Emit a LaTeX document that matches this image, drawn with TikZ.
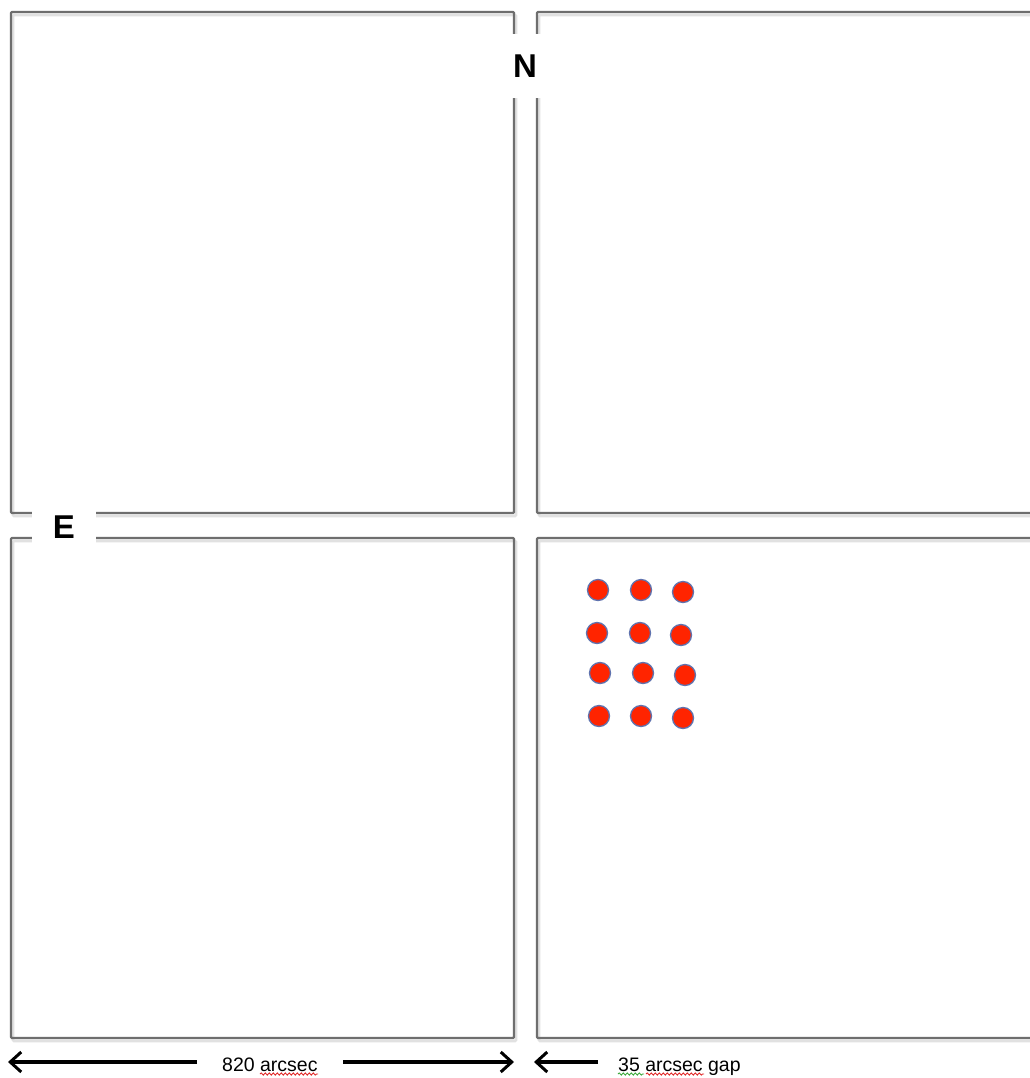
\documentclass[tikz,border=0pt]{standalone}
\usepackage{fontspec}
\setmainfont{Liberation Sans}
\usetikzlibrary{arrows.meta,decorations.pathmorphing}
\definecolor{boxgray}{RGB}{110,110,110}
\definecolor{shadowgray}{RGB}{225,225,225}
\definecolor{dotred}{RGB}{255,36,0}
\definecolor{dotrim}{RGB}{95,115,175}
\definecolor{spellred}{RGB}{225,40,40}
\definecolor{spellgreen}{RGB}{60,170,60}
\tikzset{
  x=1pt, y=-1pt,
  panel/.style={draw=boxgray, line width=2.4pt, rounded corners=1pt, line join=round},
  panelshadow/.style={draw=shadowgray, line width=2.6pt, rounded corners=1pt},
  dir/.style={fill=white, inner sep=0pt, font=\bfseries\fontsize{33}{33}\selectfont},
  lab/.style={inner sep=0pt, anchor=base west, font=\fontsize{19.5}{20}\selectfont},
  arr/.style={line width=3.2pt, -{Straight Barb[length=11pt,width=20pt,line width=3pt]}},
  dot/.style={circle, fill=dotred, draw=dotrim, line width=1.3pt, minimum size=21pt, inner sep=0pt},
  squig/.style={line width=0.9pt, decorate, decoration={snake, amplitude=1.1pt, segment length=4pt}}
}
\begin{document}
\begin{tikzpicture}
\useasboundingbox[fill=white] (0,0) rectangle (1029,1078);
% shadows
\draw[panelshadow] (13,15) rectangle (516,516);
\draw[panelshadow] (1032,15) -- (539,15) -- (539,516) -- (1032,516);
\draw[panelshadow] (13,541) rectangle (516,1041);
\draw[panelshadow] (1032,541) -- (539,541) -- (539,1041) -- (1032,1041);
% panels
\draw[panel] (11,12) rectangle (514,513);
\draw[panel] (1032,12) -- (537,12) -- (537,513) -- (1032,513);
\draw[panel] (11,538) rectangle (514,1038);
\draw[panel] (1032,538) -- (537,538) -- (537,1038) -- (1032,1038);
% direction labels
\node[dir, minimum width=44pt, minimum height=64pt] (N) at (525,66) {N};
\node[dir, minimum width=64pt, minimum height=44pt] (E) at (64,527) {E};
% dots
\foreach \px/\py [count=\i] in {598/590, 641/590, 683/592,
                                597/633, 640/633, 681/635,
                                600/673, 643/673, 685/675,
                                599/716, 641/716, 683/718}
  \node[dot] (d\i) at (\px,\py) {};
% scale labels
\node[lab] (t820) at (222,1071) {820 arcsec};
\node[lab] (t35) at (618,1071) {35 arcsec gap};
\coordinate (a1tip) at (8,1062);
\coordinate (a1start) at (197,1062);
\coordinate (a2start) at (343,1062);
\coordinate (a2tip) at (514,1062);
\coordinate (a3start) at (598,1062);
\coordinate (a3tip) at (534,1062);
\draw[arr] (a1start) -- (a1tip);
\draw[arr] (a2start) -- (a2tip);
\draw[arr] (a3start) -- (a3tip);
% spell-check underlines
\draw[squig, spellred] (260,1074) -- (318,1074);
\draw[squig, spellgreen] (618,1074) -- (644,1074);
\draw[squig, spellred] (646,1074) -- (704,1074);
\end{tikzpicture}
\end{document}
